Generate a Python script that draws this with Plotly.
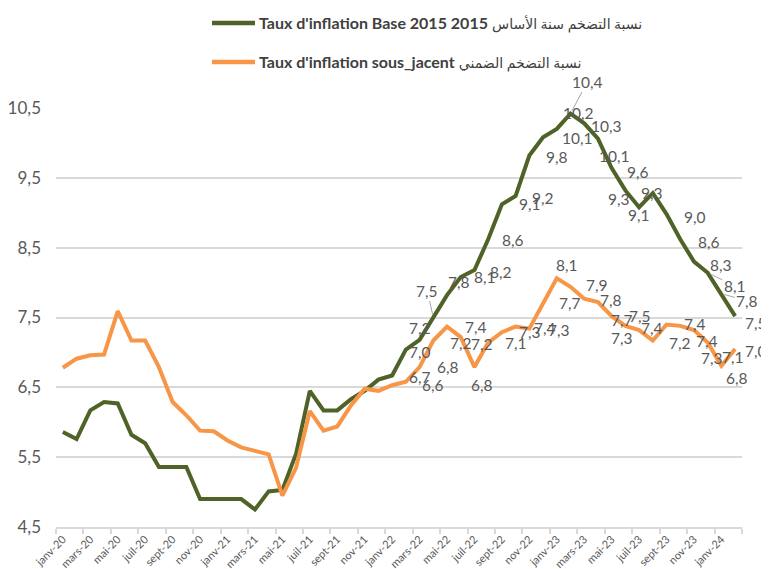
import plotly.graph_objects as go

# ---------------- data ----------------
months = ["janv", "févr", "mars", "avr", "mai", "juin",
          "juil", "août", "sept", "oct", "nov", "déc"]
years = ["20", "21", "22", "23"]
categories = [f"{m}-{y}" for y in years for m in months] + ["janv-24", "févr-24"]

# Taux d'inflation Base 2015
base_2015 = [5.86, 5.76, 6.17, 6.29, 6.27, 5.82, 5.70, 5.36, 5.36, 5.36,
             4.90, 4.90, 4.90, 4.90, 4.75, 5.01, 5.03, 5.55, 6.45, 6.17,
             6.17, 6.33, 6.45, 6.61, 6.67, 7.04, 7.18, 7.50, 7.82, 8.08,
             8.18, 8.62, 9.12, 9.24, 9.82, 10.08, 10.20, 10.42, 10.28, 10.06,
             9.64, 9.32, 9.08, 9.28, 8.98, 8.62, 8.30, 8.14, 7.84, 7.52]

# Taux d'inflation sous-jacent
sous_jacent = [6.78, 6.91, 6.96, 6.97, 7.59, 7.17, 7.17, 6.79, 6.29, 6.10,
               5.88, 5.87, 5.74, 5.64, 5.59, 5.54, 4.95, 5.35, 6.16, 5.88,
               5.94, 6.24, 6.48, 6.45, 6.53, 6.58, 6.79, 7.17, 7.37, 7.22,
               6.79, 7.14, 7.29, 7.37, 7.34, 7.70, 8.06, 7.94, 7.77, 7.72,
               7.52, 7.38, 7.32, 7.17, 7.40, 7.38, 7.32, 7.14, 6.81, 7.05]

names = ["<b>Taux d'inflation Base 2015 2015</b> <span style='font-size:14px'>نسبة التضخم سنة الأساس</span>",
         "<b>Taux d'inflation sous_jacent</b> <span style='font-size:14px'>نسبة التضخم الضمني</span>"]

# ---------------- styles ----------------
GREEN = "#4f6228"
ORANGE = "#f79646"
GRID = "#d9d9d9"
TXT = "#595959"
FONT = "Lato, 'DejaVu Sans', sans-serif"
LABEL_SIZE = 15.5

label_start_base = 24
label_start_sj = 25
# label offsets in screen px (dx right, dy down)
base_offsets = [(28, 2), (14, 2), (0, -12), (-6, -27), (12, -13), (24, 0), (27, 2),
                (25, 1), (28, 0), (27, 2), (28, 2), (34, 1), (22, -16), (17, -32),
                (22, 3), (17, 17), (26, 4), (-6, 9), (0, 8), (-1, 0), (28, 3),
                (29, 3), (27, 3), (27, 13), (26, 7), (21, 7)]
sj_offsets = [(27, 3), (28, 0), (28, 2), (29, 0), (21, 7), (8, 18), (28, 0),
              (28, 0), (29, 1), (30, 1), (27, -1), (10, -13), (26, -2), (27, 1),
              (24, 18), (28, 0), (27, 2), (-17, 8), (27, 2), (28, 0), (27, 15),
              (18, 28), (25, 14), (16, 12), (21, 2)]
base_leaders = {27, 37, 47, 48}

fig = go.Figure()
fig.add_trace(go.Scatter(x=categories, y=base_2015, mode="lines", name=names[0],
                         line=dict(color=GREEN, width=4), showlegend=False))
fig.add_trace(go.Scatter(x=categories, y=sous_jacent, mode="lines", name=names[1],
                         line=dict(color=ORANGE, width=4), showlegend=False))


def fmt(v):
    return f"{v:.1f}".replace(".", ",")


annotations = []


def add_labels(values, start, offsets, leaders):
    for k, i in enumerate(range(start, len(values))):
        dx, dy = offsets[k]
        v = values[i]
        if i in leaders:
            annotations.append(dict(x=categories[i], y=v, xref="x", yref="y",
                                    text=fmt(v), showarrow=True, arrowhead=0,
                                    arrowwidth=1, arrowcolor="#a6a6a6",
                                    ax=dx, ay=dy, standoff=3,
                                    font=dict(family=FONT, size=LABEL_SIZE, color=TXT)))
        else:
            annotations.append(dict(x=categories[i], y=v, xref="x", yref="y",
                                    text=fmt(v), showarrow=False,
                                    xshift=dx, yshift=-dy,
                                    font=dict(family=FONT, size=LABEL_SIZE, color=TXT)))


add_labels(base_2015, label_start_base, base_offsets, base_leaders)
add_labels(sous_jacent, label_start_sj, sj_offsets, set())

# ---- legend (drawn as line keys + text, above the plot area) ----
W, H = 761, 561   # page body has an 8px margin, so the figure is sized to the visible area
ML, MR, MT, MB = 48, 27, 100, 42
PW, PH = W - ML - MR, H - MT - MB


def px_x(fx):
    return (fx - ML) / PW


def px_y(fy):
    return (H - MB - fy) / PH


shapes = []
for name, color, fy in [(names[0], GREEN, 15), (names[1], ORANGE, 54)]:
    shapes.append(dict(type="line", xref="paper", yref="paper",
                       x0=px_x(204), x1=px_x(247), y0=px_y(fy), y1=px_y(fy),
                       line=dict(color=color, width=4.5)))
    annotations.append(dict(xref="paper", yref="paper", x=px_x(249), y=px_y(fy),
                            xanchor="left", yanchor="middle", showarrow=False,
                            text=name,
                            font=dict(family=FONT, size=16, color="#404040")))

fig.update_layout(
    template="none",
    width=W, height=H,
    margin=dict(l=ML, r=MR, t=MT, b=MB),
    paper_bgcolor="white", plot_bgcolor="white",
    separators=", ",
    font=dict(family=FONT, color=TXT),
    showlegend=False,
    annotations=annotations,
    shapes=shapes,
    xaxis=dict(type="category", range=[-0.5, len(categories) - 0.5],
               tickmode="linear", tick0=0, dtick=2, tickson="boundaries",
               tickangle=-45, tickfont=dict(family=FONT, size=11, color=TXT),
               ticks="outside", ticklen=5, tickcolor=GRID, tickwidth=1.5,
               showline=True, linecolor=GRID, linewidth=1.5,
               showgrid=False, zeroline=False, automargin=False),
    yaxis=dict(range=[4.5, 10.5], tick0=4.5, dtick=1, tickformat=".1f",
               tickfont=dict(family=FONT, size=17, color=TXT),
               ticks="", ticklabelstandoff=14,
               showgrid=True, gridcolor=GRID, gridwidth=1.5,
               showline=False, zeroline=False, automargin=False),
)

for tr in fig.data:
    tr.cliponaxis = False

fig.write_html("out.html")
